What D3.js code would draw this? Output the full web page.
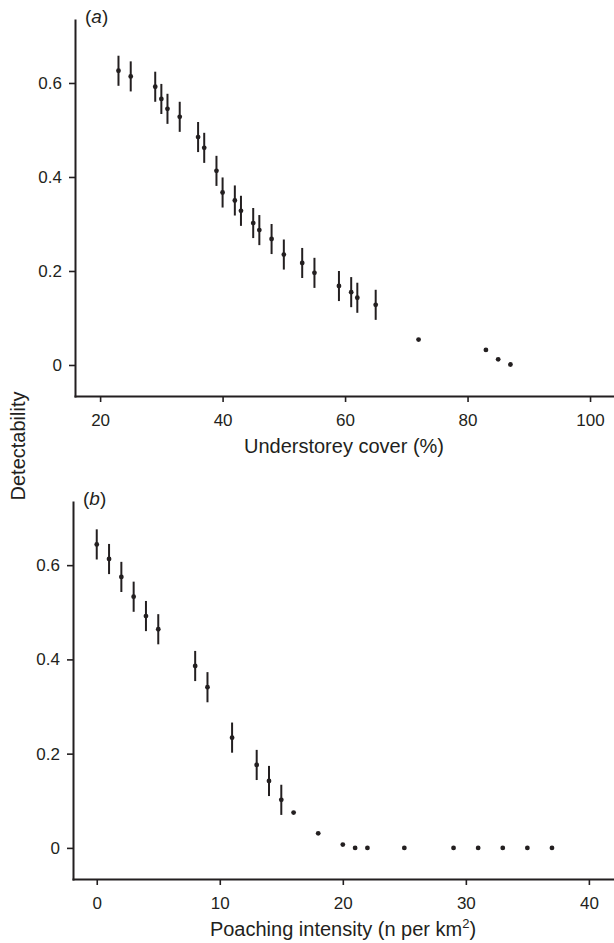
<!DOCTYPE html>
<html>
<head>
<meta charset="utf-8">
<script src="https://cdn.jsdelivr.net/npm/d3@7"></script>
<style>
  html, body { margin: 0; padding: 0; background: #fff; }
  svg { display: block; }
  text { font-family: "Liberation Sans", Arial, Helvetica, sans-serif; fill: #231f20; }
</style>
</head>
<body>
<svg id="chart" width="614" height="943"></svg>
<script>
// ---- Panel (a): Understorey cover ----
const coverX = [23,25,29,30,31,33,36,37,39,40,42,43,45,46,48,50,53,55,59,61,62,65,72,83,85,87];
const coverY = [0.626,0.614,0.592,0.566,0.545,0.528,0.485,0.462,0.413,0.367,0.350,0.328,0.302,0.287,0.268,0.235,0.217,0.196,0.168,0.155,0.143,0.128,0.054,0.032,0.012,0.001];
const coverLo = [0.594,0.582,0.560,0.534,0.513,0.496,0.453,0.430,0.381,0.335,0.318,0.296,0.270,0.255,0.236,0.203,0.185,0.164,0.136,0.123,0.111,0.096,null,null,null,null];
const coverHi = [0.658,0.646,0.624,0.598,0.577,0.560,0.517,0.494,0.445,0.399,0.382,0.360,0.334,0.319,0.300,0.267,0.249,0.228,0.200,0.187,0.175,0.160,null,null,null,null];
const coverTicks = [20,40,60,80,100];

// ---- Panel (b): Poaching intensity ----
const poachX = [0,1,2,3,4,5,8,9,11,13,14,15,16,18,20,21,22,25,29,31,33,35,37];
const poachY = [0.644,0.613,0.575,0.533,0.492,0.464,0.386,0.341,0.234,0.176,0.142,0.102,0.075,0.031,0.007,0,0,0,0,0,0,0,0];
const poachLo = [0.612,0.581,0.543,0.501,0.460,0.432,0.354,0.309,0.202,0.144,0.110,0.070,null,null,null,null,null,null,null,null,null,null,null];
const poachHi = [0.676,0.645,0.607,0.565,0.524,0.496,0.418,0.373,0.266,0.208,0.174,0.134,null,null,null,null,null,null,null,null,null,null,null];
const poachTicks = [0,10,20,30,40];

const yTicks = [0,0.2,0.4,0.6];
const yTitle = "Detectability";

const ink = "#231f20";
const svg = d3.select("#chart");

function panel(cfg) {
  const x = d3.scaleLinear().domain(cfg.xDomain).range([cfg.left, 613]);
  const y = d3.scaleLinear().domain([-0.066, 0.734]).range([cfg.bottom, cfg.top]);
  const g = svg.append("g");

  const xAxis = d3.axisBottom(x).tickValues(cfg.xTicks).tickSize(6).tickSizeOuter(0).tickPadding(12)
    .tickFormat(d3.format("d"));
  const gx = g.append("g").attr("transform", `translate(0,${cfg.bottom})`).call(xAxis);

  const yAxis = d3.axisLeft(y).tickValues(yTicks).tickSize(6).tickSizeOuter(0).tickPadding(7)
    .tickFormat(d => d === 0 ? "0" : d3.format(".1f")(d));
  const gy = g.append("g").attr("transform", `translate(${cfg.left},0)`).call(yAxis);

  [gx, gy].forEach(a => {
    a.select(".domain").attr("stroke", ink).attr("stroke-width", 2).attr("stroke-linecap", "square");
    a.selectAll(".tick line").attr("stroke", ink).attr("stroke-width", 1.6);
    a.selectAll(".tick text").attr("fill", ink).style("font-size", "17px")
      .style("font-family", '"Liberation Sans", Arial, sans-serif');
  });

  const data = cfg.xs.map((v, i) => ({x: v, y: cfg.ys[i], lo: cfg.lo[i], hi: cfg.hi[i]}));
  g.selectAll("line.err").data(data.filter(d => d.lo !== null)).join("line")
    .attr("class", "err")
    .attr("x1", d => x(d.x)).attr("x2", d => x(d.x))
    .attr("y1", d => y(d.lo)).attr("y2", d => y(d.hi))
    .attr("stroke", ink).attr("stroke-width", 2);
  g.selectAll("circle.pt").data(data).join("circle")
    .attr("class", "pt")
    .attr("cx", d => x(d.x)).attr("cy", d => y(d.y)).attr("r", 2.4)
    .attr("fill", ink);

  // panel label
  const lab = g.append("text").attr("x", cfg.left + 10).attr("y", cfg.top + 3)
    .style("font-size", "19px");
  lab.append("tspan").text("(");
  lab.append("tspan").style("font-style", "italic").text(cfg.label);
  lab.append("tspan").text(")");

  // x title
  const t = g.append("text").attr("x", (cfg.left + 613) / 2).attr("y", cfg.bottom + 57)
    .attr("text-anchor", "middle").style("font-size", "20px");
  cfg.xTitle(t);
  return {x, y};
}

panel({
  xs: coverX, ys: coverY, lo: coverLo, hi: coverHi,
  xDomain: [15.9, 103.75], xTicks: coverTicks,
  left: 75, top: 20, bottom: 396, label: "a",
  xTitle: t => t.text("Understorey cover (%)")
});

panel({
  xs: poachX, ys: poachY, lo: poachLo, hi: poachHi,
  xDomain: [-1.93, 41.96], xTicks: poachTicks,
  left: 73, top: 502, bottom: 879, label: "b",
  xTitle: t => {
    t.append("tspan").text("Poaching intensity (n per km");
    t.append("tspan").attr("dy", -8).style("font-size", "13px").text("2");
    t.append("tspan").attr("dy", 8).text(")");
  }
});

svg.append("text")
  .attr("transform", "translate(25,446) rotate(-90)")
  .attr("text-anchor", "middle")
  .style("font-size", "20px")
  .text(yTitle);
</script>
</body>
</html>
